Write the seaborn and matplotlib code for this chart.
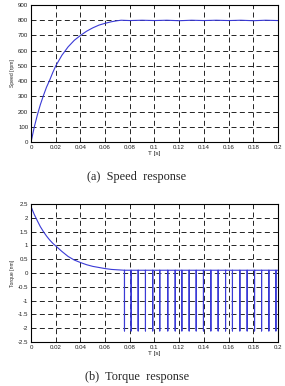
import numpy as np
import pandas as pd
import seaborn as sns
import matplotlib
matplotlib.use("Agg")
import matplotlib.pyplot as plt

# Speed response
speed_t = [0.0, 0.0025, 0.005, 0.0075, 0.01, 0.0125, 0.015, 0.0175, 0.02, 0.025, 0.03,
           0.035, 0.04, 0.045, 0.05, 0.055, 0.06, 0.065, 0.07, 0.073, 0.08, 0.09,
           0.1, 0.11, 0.12, 0.13, 0.14, 0.15, 0.16, 0.17, 0.18, 0.19, 0.2]
speed_rpm = [0, 95, 175, 245, 305, 360, 405, 455, 500, 570, 625,
             668, 700, 728, 750, 768, 780, 790, 797, 800, 798, 800,
             798, 800, 797, 800, 798, 800, 798, 800, 797, 800, 798]

# Torque response: decay part
torque_t = [0.0, 0.0, 0.0025, 0.005, 0.0075, 0.01, 0.0125, 0.015, 0.0175, 0.02, 0.025,
            0.03, 0.035, 0.04, 0.045, 0.05, 0.055, 0.06, 0.065, 0.07, 0.0757]
torque_nm = [0.0, 2.4, 2.13, 1.9, 1.68, 1.5, 1.34, 1.2, 1.08, 0.98, 0.78,
             0.6, 0.47, 0.38, 0.3, 0.24, 0.2, 0.16, 0.13, 0.115, 0.1]

# Torque pulses after steady state
spike_t = [0.0757, 0.0811, 0.0868, 0.0927, 0.0986, 0.1043, 0.1108, 0.1168, 0.1222,
           0.1281, 0.1338, 0.1397, 0.1457, 0.1516, 0.1576, 0.1632, 0.1692, 0.1751,
           0.1811, 0.1868, 0.1927, 0.1984]
spike_high = 0.1
spike_low = -2.1

tq_t = list(torque_t)
tq_v = list(torque_nm)
for s in spike_t:
    tq_t += [s, s, s]
    tq_v += [spike_high, spike_low, spike_high]
tq_t.append(0.2)
tq_v.append(spike_high)

df_speed = pd.DataFrame({"t": speed_t, "v": speed_rpm})
df_torque = pd.DataFrame({"t": tq_t, "v": tq_v})

sns.set_style("white")
plt.rcParams["font.family"] = ["Liberation Sans", "DejaVu Sans"]
serif = ["Liberation Serif", "DejaVu Serif"]

fig = plt.figure(figsize=(2.85, 3.86), dpi=100)
ax1 = fig.add_axes([0.109, 0.632, 0.866, 0.355])
ax2 = fig.add_axes([0.109, 0.114, 0.866, 0.3575])

line_col = "#3a3ad6"
sns.lineplot(data=df_speed, x="t", y="v", ax=ax1, color=line_col, lw=0.8,
             estimator=None, sort=False)
sns.lineplot(data=df_torque, x="t", y="v", ax=ax2, color=line_col, lw=0.8,
             estimator=None, sort=False)

xt = [0, 0.02, 0.04, 0.06, 0.08, 0.1, 0.12, 0.14, 0.16, 0.18, 0.2]
xt_lab = ["0", "0.02", "0.04", "0.06", "0.08", "0.1", "0.12", "0.14", "0.16", "0.18", "0.2"]

ax1.set_xlim(0, 0.2)
ax1.set_ylim(0, 900)
ax1.set_yticks(range(0, 901, 100))
ax1.set_ylabel("Speed [rpm]", fontsize=3.6, labelpad=2)

ax2.set_xlim(0, 0.2)
ax2.set_ylim(-2.5, 2.5)
ax2.set_yticks([-2.5, -2, -1.5, -1, -0.5, 0, 0.5, 1, 1.5, 2, 2.5])
ax2.set_yticklabels(["-2.5", "-2", "-1.5", "-1", "-0.5", "0", "0.5", "1", "1.5", "2", "2.5"])
ax2.set_ylabel("Torque [nm]", fontsize=3.6, labelpad=2)

for ax in (ax1, ax2):
    ax.set_xticks(xt)
    ax.set_xticklabels(xt_lab)
    ax.set_xlabel("T [s]", fontsize=4.6, labelpad=1)
    ax.tick_params(direction="in", length=2, width=0.5, labelsize=4.4, pad=2,
                   top=True, right=True, colors="#222222")
    ax.grid(True, color="black", linestyle=(0, (6, 4)), linewidth=0.6)
    for sp in ax.spines.values():
        sp.set_color("black")
        sp.set_linewidth(0.8)

fig.text(0.48, 0.541, "(a)  Speed  response", ha="center", va="center",
         fontsize=8.8, family=serif)
fig.text(0.48, 0.023, "(b)  Torque  response", ha="center", va="center",
         fontsize=8.8, family=serif)

fig.savefig("out.png", dpi=100)
